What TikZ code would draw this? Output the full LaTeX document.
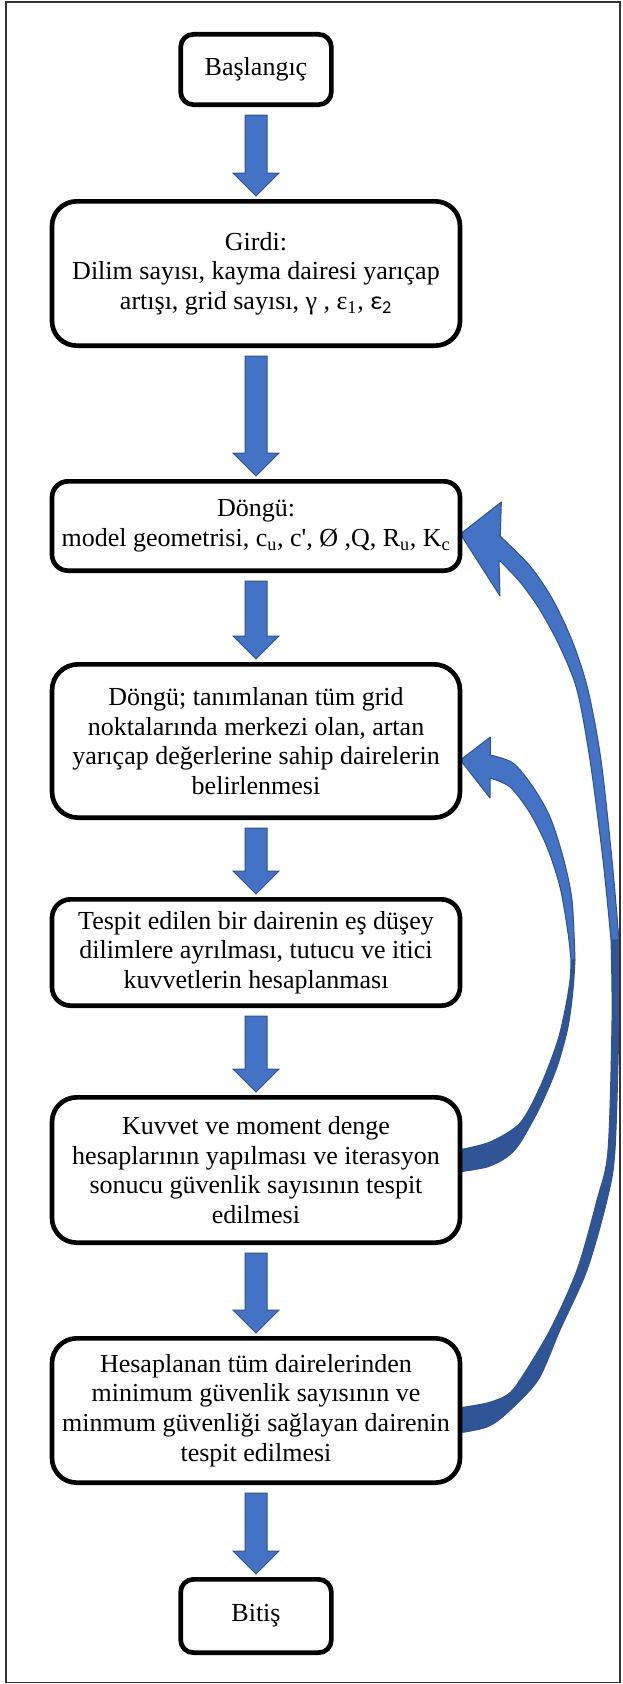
\documentclass[tikz,border=0pt]{standalone}
\usepackage{fontspec}
\setmainfont{Liberation Serif}
\newfontfamily\epsfont{Carlito}
\usetikzlibrary{positioning, calc, backgrounds}
\definecolor{arrowfill}{HTML}{4472C4}
\definecolor{arrowedge}{HTML}{2F528F}
\definecolor{arrowback}{HTML}{2F5597}

\begin{document}
\begin{tikzpicture}[
  block/.style={draw, rounded corners=18.5pt, rectangle, line width=3.5pt, fill=white, minimum width=306pt, align=center, font=\fontsize{19.5}{22.2}\selectfont},
  termblock/.style={block, rounded corners=9.5pt, minimum width=113pt},
  bigarrow/.style={fill=arrowfill, draw=arrowedge, line width=0.75pt,
    to path={($(\tikztostart)+(-8.25pt,-6pt)$)
      -- ($(\tikztostart |- \tikztotarget)+(-8.25pt,19.5pt)$)
      -- ($(\tikztostart |- \tikztotarget)+(-17.25pt,19.5pt)$)
      -- ($(\tikztostart |- \tikztotarget)+(0,2.25pt)$)
      -- ($(\tikztostart |- \tikztotarget)+(17.25pt,19.5pt)$)
      -- ($(\tikztostart |- \tikztotarget)+(8.25pt,19.5pt)$)
      -- ($(\tikztostart)+(8.25pt,-6pt)$) -- cycle}},
  loopfront/.style={fill=arrowfill, draw=arrowedge, line width=0.75pt, line join=round},
  loopback/.style={fill=arrowback, draw=arrowedge, line width=0.75pt, line join=round}
]
  \useasboundingbox (0,0) rectangle (466.5pt,-1263pt);
  \draw[line width=1.1pt, black!80] (4.5pt,-1.5pt) rectangle (465pt,-1262pt);

  \node[termblock, minimum height=52.75pt] (start) at (192pt,-52.125pt) {Başlangıç};
  \node[block, below=69pt of start, minimum height=108.25pt] (input) {Girdi:\\Dilim sayısı, kayma dairesi yarıçap\\artışı, grid sayısı, γ , ε\textsubscript{1}, {\epsfont ε\textsubscript{2}}};
  \node[block, below=98.25pt of input, minimum height=67pt, rounded corners=12pt] (loop) {Döngü:\\model geometrisi, c\textsubscript{u}, c\textquotesingle, Ø ,Q, R\textsubscript{u}, K\textsubscript{c}};
  \node[block, below=66.75pt of loop, minimum height=115pt, rounded corners=19.5pt] (grid) {Döngü; tanımlanan tüm grid\\noktalarında merkezi olan, artan\\yarıçap değerlerine sahip dairelerin\\belirlenmesi};
  \node[block, below=57.75pt of grid, minimum height=79.75pt, rounded corners=14pt] (slice) {Tespit edilen bir dairenin eş düşey\\dilimlere ayrılması, tutucu ve itici\\kuvvetlerin hesaplanması};
  \node[block, below=65.25pt of slice, minimum height=109pt] (balance) {Kuvvet ve moment denge\\hesaplarının yapılması ve iterasyon\\sonucu güvenlik sayısının tespit\\edilmesi};
  \node[block, below=68.25pt of balance, minimum height=108.25pt] (minfs) {Hesaplanan tüm dairelerinden\\minimum güvenlik sayısının ve\\minmum güvenliği sağlayan dairenin\\tespit edilmesi};
  \node[termblock, below=69pt of minfs, minimum height=55pt] (stop) {Bitiş};

  \draw[bigarrow] (start.south) to (input.north);
  \draw[bigarrow] (input.south) to (loop.north);
  \draw[bigarrow] (loop.south) to (grid.north);
  \draw[bigarrow] (grid.south) to (slice.north);
  \draw[bigarrow] (slice.south) to (balance.north);
  \draw[bigarrow] (balance.south) to (minfs.north);
  \draw[bigarrow] (minfs.south) to (stop.north);

  \begin{scope}[on background layer, x=0.75pt, y=-0.75pt]
    \coordinate (atip) at ($(loop.east)+(-2,8)$);
    \coordinate (atail1) at ($(minfs.east)+(-4,-2.5)$);
    \coordinate (atail2) at ($(minfs.east)+(-4,22.5)$);
    \coordinate (btip) at ($(grid.east)+(-2,19)$);
    \coordinate (btail1) at ($(balance.east)+(-4,-20)$);
    \coordinate (btail2) at ($(balance.east)+(-4,2)$);

    \path[loopback] plot[smooth] coordinates {(619,940) (619,1020) (615,1150) (607,1200) (587,1270) (560,1330) (538,1380) (507,1413) (487,1427) (atail2)}
      -- plot[smooth] coordinates {(atail1) (487,1403) (507,1395) (520,1380) (550,1330) (577,1270) (597,1200) (608,1150) (612,1020) (611,940)} -- cycle;
    \path[loopfront] (atip) -- ++(41,-32) -- ++(-1,33)
      -- plot[smooth] coordinates {(499,535) (530,566) (553,600) (573,643) (588,690) (601,760) (612,860) (619,940)}
      -- plot[smooth] coordinates {(611,940) (603,860) (590,760) (577,690) (560,647) (540,610) (520,582) (499,560)}
      -- ++(1,36) -- cycle;

    \path[loopback] plot[smooth] coordinates {(575,960) (573,990) (568,1027) (557,1067) (540,1107) (520,1143) (507,1157) (487,1167) (btail2)}
      -- plot[smooth] coordinates {(btail1) (490,1142) (520,1123) (540,1087) (557,1043) (565,1010) (570,980) (571,960)} -- cycle;
    \path[loopfront] (btip) -- ++(30,-23) -- ++(0,18)
      -- plot[smooth] coordinates {(490,755) (513,763) (533,787) (550,817) (563,857) (572,900) (575,960)}
      -- plot[smooth] coordinates {(571,960) (568,933) (560,887) (547,847) (530,813) (510,787) (490,778)}
      -- ++(0,20) -- cycle;
  \end{scope}
\end{tikzpicture}
\end{document}
